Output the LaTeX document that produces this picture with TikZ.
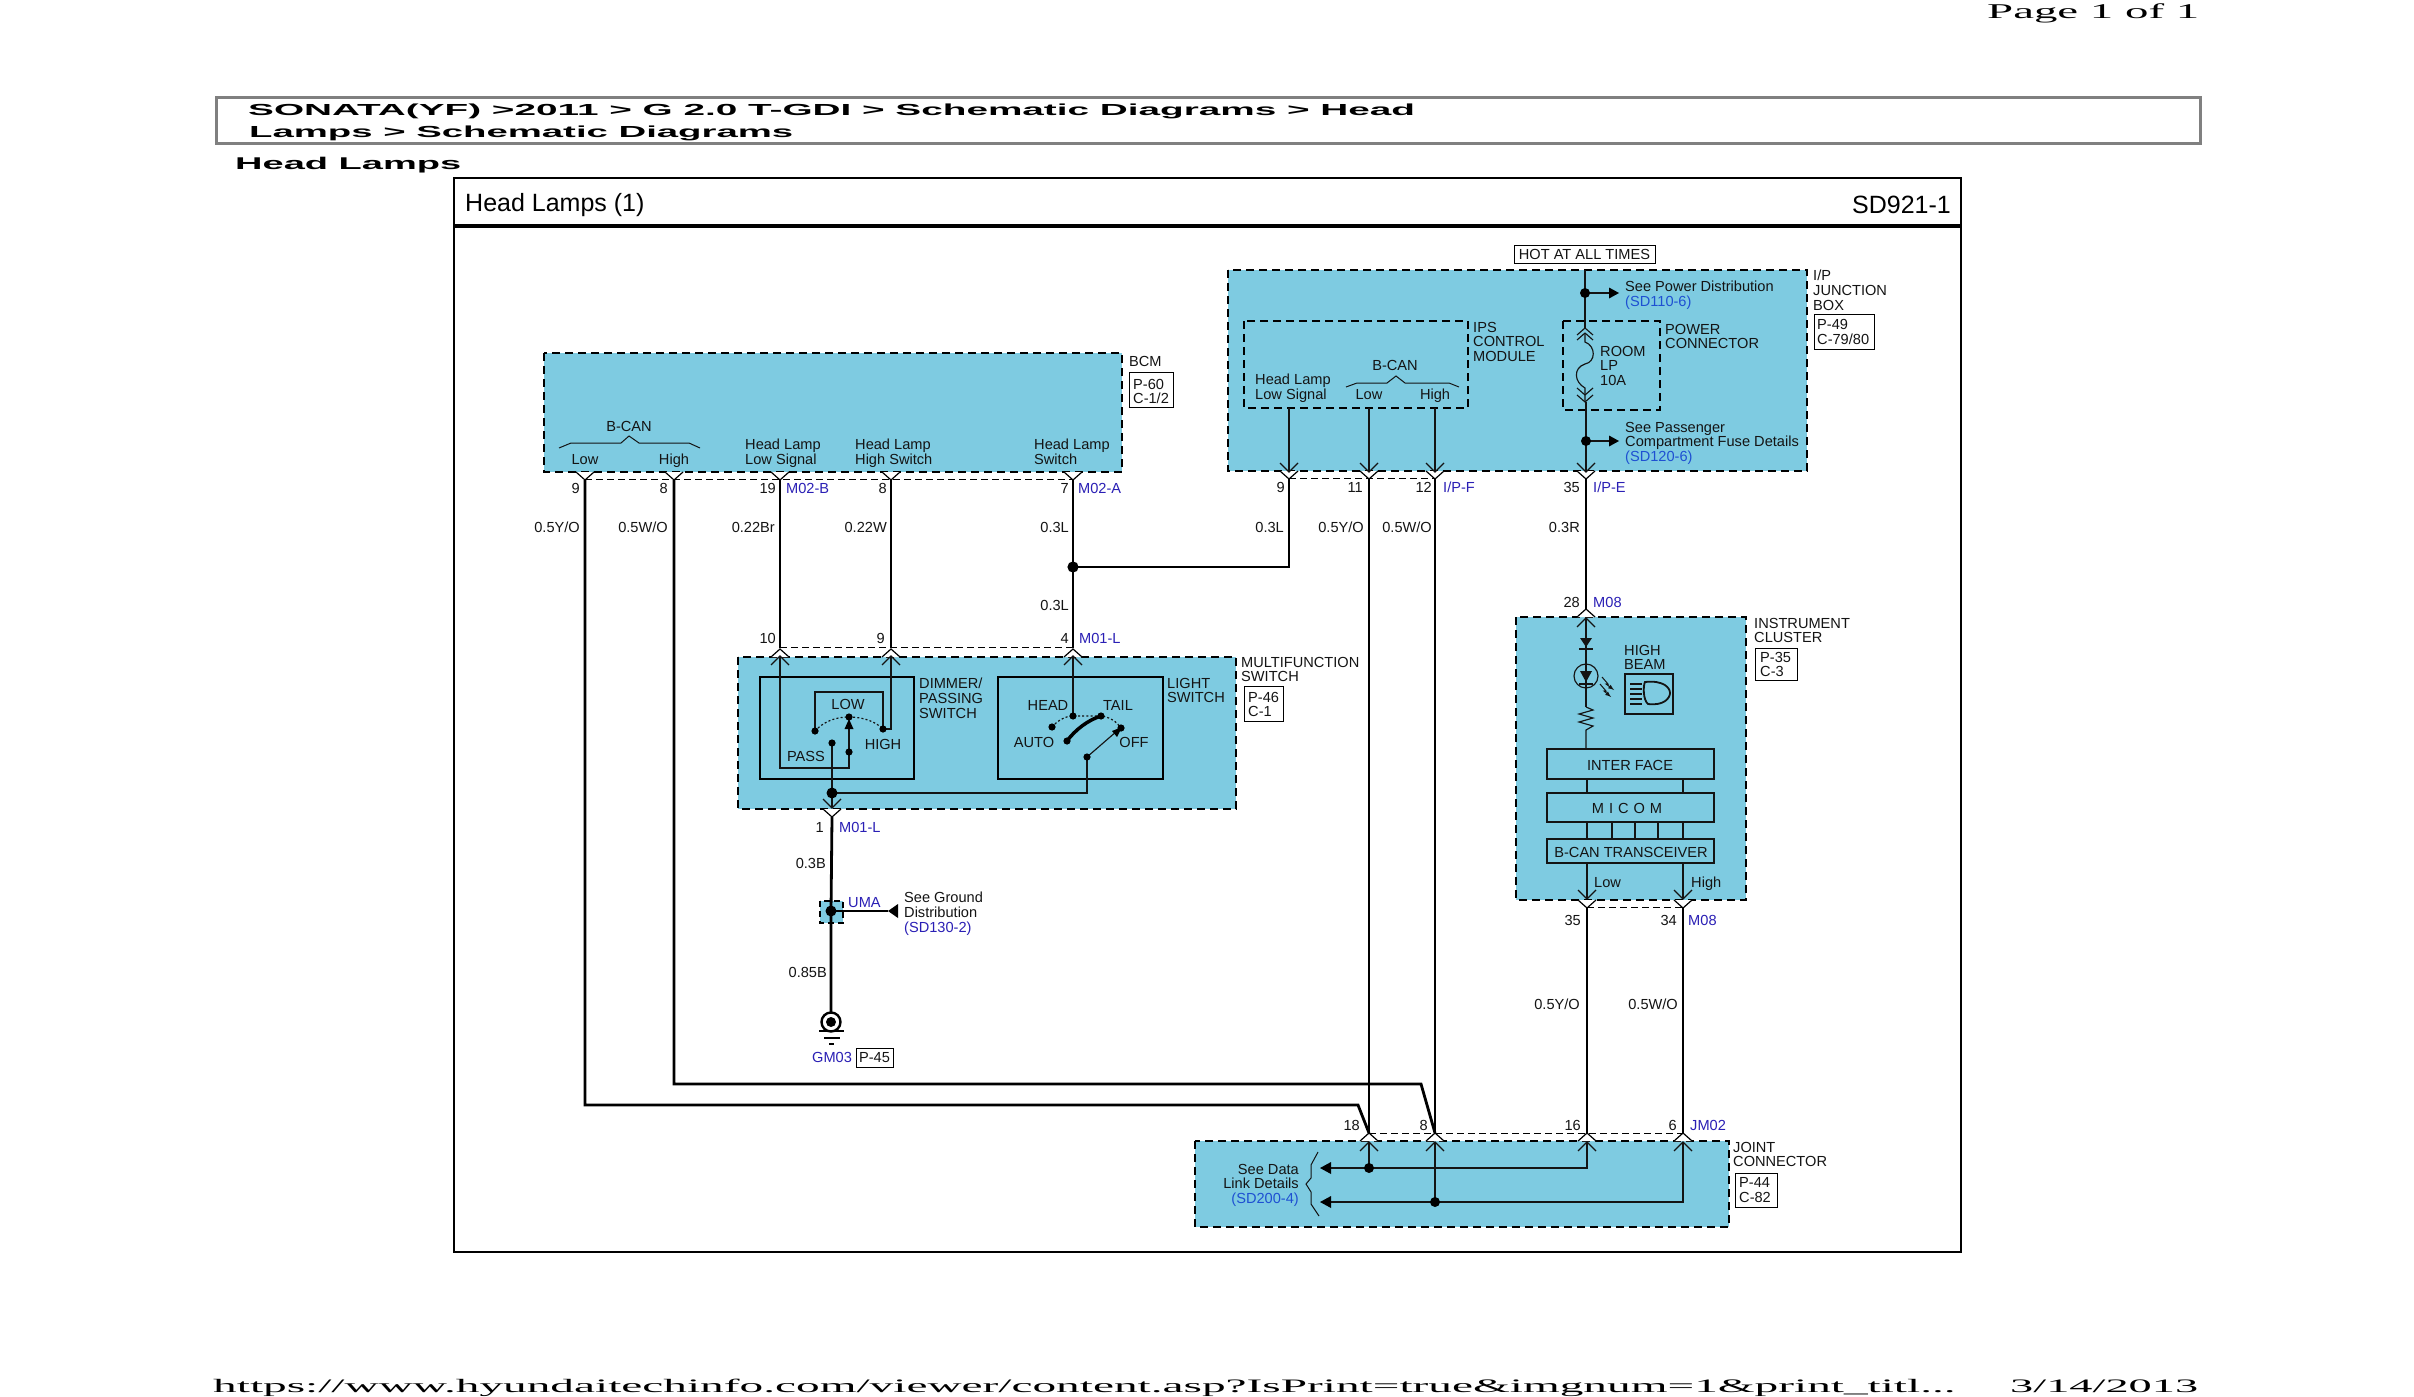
\documentclass[tikz,border=0pt]{standalone}
\usepackage{fontspec}
\setmainfont{Liberation Sans}
\newfontfamily\pageserif{Liberation Serif}
\definecolor{modfill}{HTML}{7ECBE1}
\definecolor{pinblue}{HTML}{2A1FB5}
\definecolor{linkblue}{HTML}{1E50D2}
\definecolor{ink}{HTML}{141414}
\tikzset{
  lab/.style={font=\fontsize{14.6pt}{14.8pt}\selectfont,text=ink,inner sep=0pt,text height=10.5pt,text depth=0pt},
  ml/.style={font=\fontsize{14.6pt}{14.8pt}\selectfont,text=ink,inner sep=0pt,align=left,anchor=north west},
  mr/.style={font=\fontsize{14.6pt}{14.8pt}\selectfont,text=ink,inner sep=0pt,align=right,anchor=north east},
  pinlab/.style={lab,text=pinblue,anchor=west},
  num/.style={lab,anchor=east},
  refbox/.style={draw=black,line width=1pt,fill=white},
  module/.style={draw=black,fill=modfill,line width=2.6pt,dash pattern=on 8pt off 5pt},
  submod/.style={draw=black,line width=2.4pt,dash pattern=on 8pt off 5pt},
  wire/.style={draw=black,line width=2.8pt},
  thin wire/.style={draw=ink,line width=1.15pt},
  dotted arc/.style={draw=ink,line width=1.2pt,dash pattern=on 2pt off 2.2pt},
  hair/.style={draw=black,line width=1pt,dash pattern=on 7pt off 4pt},
  pinshape/.style={draw=black,line width=1.2pt,fill=white},
  dot/.style={fill=black,draw=none},
  stretched/.style={inner sep=0pt,anchor=base west},
}
% white connector wedge under / over a module edge
\newcommand\pinD[2]{\draw[pinshape] (#1-9,#2)--(#1,#2+8)--(#1+9,#2);}
\newcommand\pinU[2]{\draw[pinshape] (#1-9,#2)--(#1,#2-8)--(#1+9,#2);}
% open chevrons inside a module
\newcommand\chevD[2]{\draw[thin wire] (#1-9,#2-9)--(#1,#2)--(#1+9,#2-9);}
\newcommand\chevU[2]{\draw[thin wire] (#1-9,#2+9)--(#1,#2)--(#1+9,#2+9);}
\newcommand\wdot[3]{\fill[dot] (#1,#2) circle (#3);}
\begin{document}
\begin{tikzpicture}[x=1pt,y=-1pt]
\useasboundingbox (0,0) rectangle (2414,1397);
\fill[white] (0,0) rectangle (2414,1397);

% --- page furniture
\node[stretched] (pg) at (1987,19) {\pageserif\fontsize{21pt}{22pt}\selectfont\resizebox{212pt}{\height}{Page 1 of 1}};
\draw[draw=gray,line width=3pt,fill=white] (216,97) rectangle (2200,143);
\node[stretched] (t1) at (248,115) {\fontsize{16pt}{18pt}\selectfont\bfseries\resizebox{1167pt}{\height}{SONATA(YF) >2011 > G 2.0 T-GDI > Schematic Diagrams > Head}};
\node[stretched] (t2) at (249,137) {\fontsize{16pt}{18pt}\selectfont\bfseries\resizebox{544pt}{\height}{Lamps > Schematic Diagrams}};
\node[stretched] (t3) at (235,169) {\fontsize{17pt}{18pt}\selectfont\bfseries\resizebox{226pt}{\height}{Head Lamps}};
\node[stretched] (ft) at (213,1392) {\pageserif\fontsize{19pt}{20pt}\selectfont\resizebox{1742pt}{\height}{https://www.hyundaitechinfo.com/viewer/content.asp?IsPrint=true\&imgnum=1\&print\_titl...}};
\node[stretched] (dt) at (2010,1392) {\pageserif\fontsize{19pt}{20pt}\selectfont\resizebox{188pt}{\height}{3/14/2013}};

% --- sheet frame
\draw[draw=black,line width=1.2pt] (454,178) rectangle (1961,1252);
\draw[draw=black,line width=4pt] (454,226)--(1961,226);
\node[inner sep=0pt,anchor=west,font=\fontsize{25pt}{26pt}\selectfont] (sheet) at (465,205) {Head Lamps (1)};
\node[inner sep=0pt,anchor=east,font=\fontsize{25pt}{26pt}\selectfont] (sheetno) at (1951,205) {SD921-1};

% --- modules
\draw[module] (544,353) rectangle (1122,472);
\draw[module] (1228,270) rectangle (1807,471);
\draw[module] (738,657) rectangle (1236,809);
\draw[module] (1516,617) rectangle (1746,900);
\draw[module] (1195,1141) rectangle (1729,1227);
\draw[submod] (1244,321) rectangle (1468,408);
\draw[submod] (1563,321) rectangle (1660,410);
\draw[fill=modfill,draw=black,line width=2pt,dash pattern=on 6pt off 4pt] (820,901) rectangle (843,923);

% --- named wire ends
\coordinate (bA) at (585,480); \coordinate (bB) at (674,480);
\coordinate (bC) at (780,480); \coordinate (bD) at (891,480); \coordinate (bE) at (1073,480);
\coordinate (iA) at (1289,479); \coordinate (iB) at (1369,479); \coordinate (iC) at (1435,479); \coordinate (iD) at (1586,479);
\coordinate (mA) at (780,648); \coordinate (mB) at (891,648); \coordinate (mC) at (1073,648);
\coordinate (mD) at (832,817);
\coordinate (cT) at (1586,609); \coordinate (cA) at (1587,908); \coordinate (cB) at (1683,908);
\coordinate (jA) at (1369,1133); \coordinate (jB) at (1435,1133); \coordinate (jC) at (1587,1133); \coordinate (jD) at (1683,1133);
\coordinate (split) at (1073,567);
\coordinate (uma) at (831,911);
\coordinate (gnd) at (831,1012);

% --- heavy wires
\draw[wire] (bA)--(585,1105)--(1358,1105)--(jA);
\draw[wire] (bB)--(674,1084)--(1421,1084)--(jB);
\draw[wire] (bC)--(mA);
\draw[wire] (bD)--(mB);
\draw[wire] (bE)--(mC);
\draw[wire] (split)-|(iA);
\draw[wire] (iB)--(jA);
\draw[wire] (iC)--(jB);
\draw[wire] (iD)--(cT);
\draw[wire] (cA)--(jC);
\draw[wire] (cB)--(jD);
\draw[wire] (mD)--(uma)--(gnd);
\draw[wire,line width=2pt] (uma)--(888,911);
\wdot{1073}{567}{5.6}
\wdot{831}{911}{5.5}

% --- thin dashed connector outlines
\draw[hair] (585,479)--(1073,479);
\draw[hair] (1289,478)--(1435,478);
\draw[hair] (780,647)--(1073,647);
\draw[hair] (1587,907)--(1683,907);
\draw[hair] (1369,1133)--(1683,1133);

% --- connector wedges
\foreach \px in {585,674,780,891,1073} {\pinD{\px}{472}}
\foreach \px in {1289,1369,1435,1586} {\pinD{\px}{471}}
\foreach \px in {780,891,1073} {\pinU{\px}{657}}
\pinD{832}{809}
\pinU{1586}{617}
\foreach \px in {1587,1683} {\pinD{\px}{900}}
\foreach \px in {1369,1435,1587,1683} {\pinU{\px}{1141}}

% --- wire-end stems
\foreach \px in {585,674,780,891,1073} {\draw[wire] (\px,480)--(\px,486);}
\foreach \px in {1289,1369,1435,1586} {\draw[wire] (\px,479)--(\px,485);}

% --- BCM
\node[lab,anchor=center] (b1) at (629,426) {B-CAN};
\draw[thin wire,line width=1pt] (559,448)--(571,443)--(621,443)--(629,436)--(639,443)--(689,443)--(700,448);
\node[lab,anchor=center] (b2) at (585,459) {Low};
\node[lab,anchor=center] (b3) at (674,459) {High};
\node[ml] (b4) at (745,438.7) {Head Lamp\\Low Signal};
\node[ml] (b5) at (855,438.7) {Head Lamp\\High Switch};
\node[ml] (b6) at (1034,438.7) {Head Lamp\\Switch};
\node[lab,anchor=west] (b7) at (1129,361) {BCM};
\draw[refbox] (1129,372) rectangle (1173,407);
\node[ml] (b8) at (1133,378.7) {P-60\\C-1/2};
\node[num] (n1) at (580,488) {9};
\node[num] (n2) at (668,488) {8};
\node[num] (n3) at (776,488) {19};
\node[num] (n4) at (887,488) {8};
\node[num] (n5) at (1069,488) {7};
\node[pinlab] (c1) at (786,488) {M02-B};
\node[pinlab] (c2) at (1078,488) {M02-A};
\node[num] (g1) at (580,527) {0.5Y/O};
\node[num] (g2) at (668,527) {0.5W/O};
\node[num] (g3) at (775,527) {0.22Br};
\node[num] (g4) at (887,527) {0.22W};
\node[num] (g5) at (1069,527) {0.3L};
\node[num] (g6) at (1069,605) {0.3L};

% --- I/P junction box
\draw[refbox] (1514,245) rectangle (1655,263);
\node[lab,anchor=center] (hot) at (1584.5,254) {HOT AT ALL TIMES};
\draw[thin wire] (1585,270)--(1585,328);
\draw[thin wire] (1585,293)--(1612,293);
\fill[black] (1619,293)--(1609,287.5)--(1609,298.5)--cycle;
\wdot{1585}{293}{5}
\node[ml] (i1) at (1625,280.7) {See Power Distribution\\\textcolor{linkblue}{(SD110-6)}};
\node[ml] (i2) at (1473,321.7) {IPS\\CONTROL\\MODULE};
\node[ml] (i3) at (1665,323.7) {POWER\\CONNECTOR};
\node[ml] (i4) at (1255,373.7) {Head Lamp\\Low Signal};
\node[lab,anchor=center] (i5) at (1395,365) {B-CAN};
\draw[thin wire,line width=1pt] (1346,387)--(1357,383)--(1387,383)--(1396,376)--(1405,383)--(1449,383)--(1459,387);
\node[lab,anchor=center] (i6) at (1369,394) {Low};
\node[lab,anchor=center] (i7) at (1435,394) {High};
\draw[thin wire] (1585,328)--(1577,335) (1585,328)--(1593,335);
\draw[thin wire] (1585,333)--(1577,340) (1585,333)--(1593,340);
\draw[thin wire] (1585,333)--(1585,342) .. controls (1596,346) and (1596,362) .. (1585,364) .. controls (1573,368) and (1574,382) .. (1585,388)--(1585,402);
\draw[thin wire] (1585,395)--(1577,388) (1585,395)--(1593,388);
\draw[thin wire] (1585,402)--(1577,395) (1585,402)--(1593,395);
\draw[thin wire] (1586,402)--(1586,471);
\draw[thin wire] (1586,441)--(1612,441);
\fill[black] (1619,441)--(1609,435.5)--(1609,446.5)--cycle;
\wdot{1586}{441}{5}
\node[lab,anchor=west] (i8) at (1600,351) {ROOM};
\node[lab,anchor=west] (i9) at (1600,365) {LP};
\node[lab,anchor=west] (i10) at (1600,380) {10A};
\node[ml] (i11) at (1625,421.7) {See Passenger\\Compartment Fuse Details\\\textcolor{linkblue}{(SD120-6)}};
\foreach \px in {1289,1369,1435} {\draw[thin wire] (\px,408)--(\px,471); \chevD{\px}{472}}
\chevD{1586}{472}
\node[ml] (i12) at (1813,269.7) {I/P\\JUNCTION\\BOX};
\draw[refbox] (1814,314) rectangle (1874,349);
\node[ml] (i13) at (1817,319) {P-49\\C-79/80};
\node[num] (n6) at (1285,487) {9};
\node[num] (n7) at (1363,487) {11};
\node[num] (n8) at (1432,487) {12};
\node[num] (n9) at (1580,487) {35};
\node[pinlab] (c3) at (1443,487) {I/P-F};
\node[pinlab] (c4) at (1593,487) {I/P-E};
\node[num] (g7) at (1284,527) {0.3L};
\node[num] (g8) at (1364,527) {0.5Y/O};
\node[num] (g9) at (1432,527) {0.5W/O};
\node[num] (g10) at (1580,527) {0.3R};

% --- multifunction switch
\draw[draw=black,line width=2.6pt] (760,677) rectangle (914,779);
\draw[draw=black,line width=2.6pt] (998,677) rectangle (1163,779);
\node[ml] (m1) at (919,677.7) {DIMMER/\\PASSING\\SWITCH};
\node[ml] (m2) at (1167,677.7) {LIGHT\\SWITCH};
\node[ml] (m3) at (1241,656.7) {MULTIFUNCTION\\SWITCH};
\draw[refbox] (1244,686) rectangle (1283,721);
\node[ml] (m4) at (1248,691.7) {P-46\\C-1};
\foreach \px in {780,891,1073} {\chevU{\px}{656}}
\chevD{832}{808}
\draw[thin wire] (780,656)--(780,768)--(849,768)--(849,752);
\draw[thin wire] (849,752)--(849,727);
\fill[black] (849,719)--(844.5,729)--(853.5,729)--cycle;
\draw[thin wire] (815,731)--(815,692)--(883,692)--(883,729)--(891,729)--(891,656);
\draw[dotted arc] (815,731) .. controls (825,720) and (838,717) .. (849,717) .. controls (862,717) and (875,721) .. (883,729);
\draw[thin wire] (832,743)--(832,808);
\draw[thin wire] (832,793)--(1087,793)--(1087,757);
\draw[thin wire] (1087,757)--(1117,731);
\fill[black] (1122,727)--(1112,731)--(1117,737)--cycle;
\draw[thin wire] (1073,656)--(1073,716);
\draw[dotted arc] (1052,727) .. controls (1058,720) and (1066,716) .. (1073,716) -- (1101,716) .. controls (1110,717) and (1117,722) .. (1121,728);
\draw[draw=black,line width=3.5pt,line cap=round] (1067,741) .. controls (1075,730) and (1088,720) .. (1101,716);
\foreach \dx/\dy in {815/731,849/717,883/729,832/743,849/752,1052/727,1073/716,1101/716,1121/728,1087/757,1067/741} {\wdot{\dx}{\dy}{3.6}}
\wdot{832}{793}{5.5}
\node[lab,anchor=center] (s1) at (848,704) {LOW};
\node[lab,anchor=center] (s2) at (883,744) {HIGH};
\node[lab,anchor=center] (s3) at (806,756) {PASS};
\node[lab,anchor=center] (s4) at (1048,705) {HEAD};
\node[lab,anchor=center] (s5) at (1118,705) {TAIL};
\node[lab,anchor=center] (s6) at (1034,742) {AUTO};
\node[lab,anchor=center] (s7) at (1134,742) {OFF};
\node[num] (n10) at (776,638) {10};
\node[num] (n11) at (885,638) {9};
\node[num] (n12) at (1069,638) {4};
\node[pinlab] (c5) at (1079,638) {M01-L};
\node[num] (n13) at (824,827) {1};
\node[pinlab] (c6) at (839,827) {M01-L};

% --- ground
\node[num] (g11) at (826,863) {0.3B};
\node[num] (g12) at (827,972) {0.85B};
\node[pinlab] (c7) at (848,902) {UMA};
\fill[black] (888,911)--(898,904)--(898,918)--cycle;
\node[ml] (e1) at (904,891.7) {See Ground\\Distribution\\\textcolor{pinblue}{(SD130-2)}};
\draw[draw=black,line width=2.4pt,fill=white] (831,1022) circle (9.5);
\wdot{831}{1022}{5}
\draw[draw=black,line width=2.2pt] (819,1031)--(844,1031);
\draw[draw=black,line width=2.2pt] (824,1038)--(840,1038);
\draw[draw=black,line width=2.2pt] (829,1044)--(834,1044);
\node[pinlab] (c8) at (812,1057) {GM03};
\draw[refbox] (856,1048) rectangle (893,1067);
\node[lab,anchor=center] (e2) at (874.5,1057.5) {P-45};

% --- instrument cluster
\foreach \px in {1586} {\chevU{\px}{618}}
\node[num] (n14) at (1580,602) {28};
\node[pinlab] (c9) at (1593,602) {M08};
\draw[thin wire] (1586,618)--(1586,707);
\fill[ink] (1580,638)--(1592,638)--(1586,647)--cycle;
\draw[thin wire] (1579,649)--(1593,649);
\draw[thin wire] (1586,676) circle (12);
\fill[ink] (1580,671)--(1592,671)--(1586,682)--cycle;
\draw[thin wire] (1579,684)--(1593,684);
\draw[thin wire,line width=1pt,-latex] (1602,677)--(1608,684)--(1606,684)--(1614,690);
\draw[thin wire,line width=1pt,-latex] (1600,684)--(1606,691)--(1604,691)--(1611,697);
\draw[thin wire] (1586,707)--(1593,710)--(1579,714)--(1593,718)--(1579,722)--(1593,726)--(1586,730)--(1586,749);
\node[ml] (h1) at (1624,644.7) {HIGH\\BEAM};
\draw[thin wire] (1625,674) rectangle (1673,714);
\foreach \ly in {684,689,694,699,704} {\draw[thin wire] (1630,\ly)--(1642,\ly);}
\draw[thin wire,line width=1.8pt] (1645,682) .. controls (1664,680) and (1670,688) .. (1670,693) .. controls (1670,698) and (1664,706) .. (1648,704) .. controls (1643,700) and (1643,686) .. (1645,682) -- cycle;
\draw[thin wire] (1547,749) rectangle (1714,779);
\draw[thin wire] (1547,793) rectangle (1714,822);
\draw[thin wire] (1547,839) rectangle (1714,863);
\node[lab,anchor=center] (x1) at (1630,765) {INTER FACE};
\node[lab,anchor=center] (x2) at (1627,808) {M\hspace{5pt}I\hspace{5pt}C\hspace{5pt}O\hspace{5pt}M};
\node[lab,anchor=center] (x3) at (1631,852) {B-CAN TRANSCEIVER};
\foreach \px in {1587,1683} {\draw[thin wire] (\px,779)--(\px,793);}
\foreach \px in {1587,1612,1635,1658,1683} {\draw[thin wire] (\px,822)--(\px,839);}
\foreach \px in {1587,1683} {\draw[thin wire] (\px,863)--(\px,899); \chevD{\px}{899}}
\node[lab,anchor=west] (x4) at (1594,882) {Low};
\node[lab,anchor=west] (x5) at (1691,882) {High};
\node[ml] (x6) at (1754,617.7) {INSTRUMENT\\CLUSTER};
\draw[refbox] (1755,648) rectangle (1797,680);
\node[ml] (x7) at (1760,651.7) {P-35\\C-3};
\node[num] (n15) at (1581,920) {35};
\node[num] (n16) at (1677,920) {34};
\node[pinlab] (c10) at (1688,920) {M08};
\node[num] (g13) at (1580,1004) {0.5Y/O};
\node[num] (g14) at (1678,1004) {0.5W/O};

% --- joint connector
\node[num] (n17) at (1360,1125) {18};
\node[num] (n18) at (1428,1125) {8};
\node[num] (n19) at (1581,1125) {16};
\node[num] (n20) at (1677,1125) {6};
\node[pinlab] (c11) at (1690,1125) {JM02};
\foreach \px in {1369,1435,1587,1683} {\chevU{\px}{1142}}
\draw[thin wire] (1369,1142)--(1369,1168);
\draw[thin wire] (1326,1168)--(1587,1168)--(1587,1142);
\draw[thin wire] (1435,1142)--(1435,1202);
\draw[thin wire] (1326,1202)--(1683,1202)--(1683,1142);
\fill[black] (1320,1168)--(1331,1162)--(1331,1174)--cycle;
\fill[black] (1320,1202)--(1331,1196)--(1331,1208)--cycle;
\wdot{1369}{1168}{5}
\wdot{1435}{1202}{5}
\draw[thin wire,line width=1pt] (1318,1152)--(1311,1165)--(1311,1178)--(1306,1184)--(1311,1192)--(1311,1204)--(1319,1216);
\node[mr] (j1) at (1299,1163.7) {See Data\\Link Details\\\textcolor{linkblue}{(SD200-4)}};
\node[ml] (j2) at (1733,1141.7) {JOINT\\CONNECTOR};
\draw[refbox] (1735,1173) rectangle (1777,1207);
\node[ml] (j3) at (1739,1177.7) {P-44\\C-82};
\end{tikzpicture}
\end{document}
